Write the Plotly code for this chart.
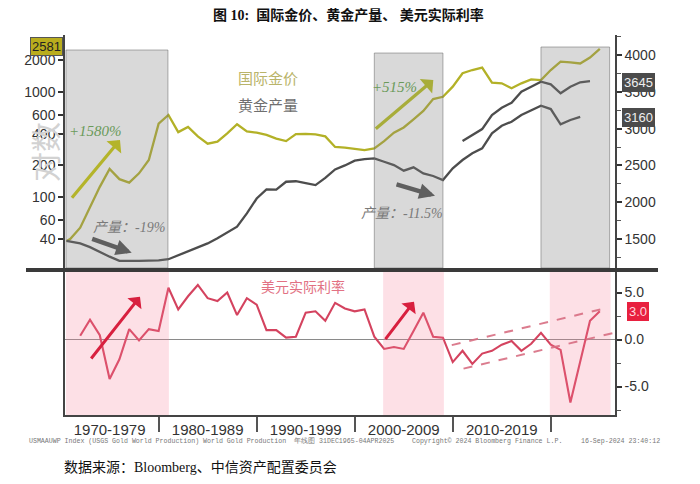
import plotly.graph_objects as go

# ---------------- data ----------------
gold_pos = [1970.6] + list(range(1971, 2026))
gold_price = [38, 40, 51, 80, 125, 185, 148, 137, 168, 225, 500, 605, 415, 465, 378,
              322, 337, 404, 493, 422, 410, 390, 360, 341, 398, 400, 395, 378, 300, 295,
              289, 280, 290, 340, 410, 460, 550, 660, 856, 900, 1125, 1510, 1620, 1710,
              1230, 1210, 1085, 1210, 1320, 1300, 1620, 1945, 1915, 1870, 2130, 2581]

prod_pos = [1970.6] + list(range(1971, 2024))
gold_prod = [1476, 1465, 1441, 1390, 1320, 1260, 1204, 1200, 1203, 1206, 1210, 1225,
             1280, 1335, 1385, 1440, 1510, 1590, 1667, 1849, 2050, 2175, 2170, 2278,
             2285, 2260, 2233, 2330, 2445, 2500, 2565, 2585, 2596, 2550, 2505, 2428,
             2474, 2392, 2356, 2301, 2460, 2573, 2664, 2732, 2936, 3039, 3094, 3185,
             3253, 3311, 3266, 3058, 3117, 3160]

prod2_pos = list(range(2011, 2025))
gold_prod2 = [2831, 2913, 2994, 3185, 3284, 3352, 3501, 3569, 3637, 3602, 3480, 3569, 3629, 3645]

rate_pos = list(range(1972, 2026))
real_rate = [0.4, 2.1, 0.45, -4.2, -2.1, 1.1, -0.1, 1.1, 0.9,
             5.5, 3.2, 4.6, 5.8, 4.4, 4.1, 5.0, 2.6, 4.4, 3.7,
             1.0, 1.0, 0.2, 0.3, 2.85, 3.0, 2.0, 3.9, 3.3, 3.0,
             3.2, 0.3, -1.0, -0.8, -1.0, 0.9, 2.85, 0.3, 0.2, -2.4,
             -1.2, -2.6, -1.5, -1.2, -0.55, -0.15, -1.2, -0.45, 0.7, -0.55,
             -1.1, -6.7, -2.35, 2.0, 3.0]

decade_mid = [1975, 1985, 1995, 2005, 2015]
decade_labels = ["1970-1979", "1980-1989", "1990-1999", "2000-2009", "2010-2019"]
decade_edges = [1980, 1990, 2000, 2010, 2020]
left_ticks = [40, 60, 100, 200, 400, 600, 1000, 2000]
right_ticks = [1500, 2000, 2500, 3000, 3500, 4000]
rate_ticks = [-5, 0, 5]
rate_ticktext = ["-5.0", "0.0", "5.0"]

# ---------------- layout geometry ----------------
W, H = 700, 484
L, R, T, B = 65, 85, 35, 69
PW, PH = W - L - R, H - T - B


def xp(px):
    return (px - L) / PW


def yp(py):
    return (H - B - py) / PH


GOLD = "#b3b127"
PROD = "#4d4d4d"
RATE = "#d4435f"
TICKF = dict(family="Liberation Sans, Arial, sans-serif", size=14, color="#333")
CJK = "Noto Sans CJK SC"
SERIF = "Liberation Serif, Noto Sans CJK SC"

fig = go.Figure()
fig.add_trace(go.Scatter(x=gold_pos, y=gold_price, xaxis="x", yaxis="y", mode="lines",
                         line=dict(color=GOLD, width=2.3), showlegend=False, hoverinfo="skip"))
fig.add_trace(go.Scatter(x=prod_pos, y=gold_prod, xaxis="x", yaxis="y2", mode="lines",
                         line=dict(color=PROD, width=2.3), showlegend=False, hoverinfo="skip"))
fig.add_trace(go.Scatter(x=prod2_pos, y=gold_prod2, xaxis="x", yaxis="y2", mode="lines",
                         line=dict(color=PROD, width=2.3), showlegend=False, hoverinfo="skip"))
fig.add_trace(go.Scatter(x=rate_pos, y=real_rate, xaxis="x", yaxis="y3", mode="lines",
                         line=dict(color=RATE, width=2.1), showlegend=False, hoverinfo="skip"))

top_dom = [yp(268), 1]
bot_dom = [0, yp(272)]

fig.update_layout(
    template="none",
    width=W, height=H,
    margin=dict(l=L, r=R, t=T, b=B, autoexpand=False),
    paper_bgcolor="white", plot_bgcolor="white",
    showlegend=False,
    xaxis=dict(domain=[0, 1], range=[1970.45, 2026.55], anchor="y3", automargin=False,
               tickmode="array", tickvals=decade_mid, ticktext=decade_labels,
               ticks="", showline=True, linecolor="#444", linewidth=1.5,
               showgrid=False, zeroline=False,
               tickfont=dict(family="Liberation Sans, Arial, sans-serif", size=15, color="#333"),
               minor=dict(tickmode="array", tickvals=decade_edges, ticks="outside",
                          ticklen=15, tickwidth=1.5, tickcolor="#555", showgrid=False)),
    yaxis=dict(domain=top_dom, type="log", range=[1.324, 3.543], anchor="x", automargin=False,
               tickmode="array", tickvals=left_ticks, ticktext=[str(v) for v in left_ticks],
               ticks="outside", ticklen=5, tickwidth=2, tickcolor="#333",
               showline=True, linecolor="#444", linewidth=1.5,
               showgrid=False, zeroline=False, tickfont=TICKF),
    yaxis2=dict(overlaying="y", side="right", anchor="x", range=[1106, 4272], automargin=False,
                tickmode="array", tickvals=right_ticks,
                ticks="outside", ticklen=5, tickwidth=2, tickcolor="#333",
                minor=dict(dtick=250, tick0=0, ticks="outside", ticklen=4, tickwidth=1, tickcolor="#555"),
                showline=True, linecolor="#444", linewidth=1.5,
                showgrid=False, zeroline=False, tickfont=TICKF),
    yaxis3=dict(domain=bot_dom, side="right", anchor="x", range=[-8.03, 7.18], automargin=False,
                tickmode="array", tickvals=rate_ticks, ticktext=rate_ticktext,
                ticks="outside", ticklen=5, tickwidth=2, tickcolor="#333",
                minor=dict(dtick=2.5, tick0=0, ticks="outside", ticklen=4, tickwidth=1, tickcolor="#555"),
                showline=True, mirror=True, linecolor="#444", linewidth=1.5,
                showgrid=False, zeroline=True, zerolinecolor="#8a8a8a", zerolinewidth=1,
                tickfont=TICKF),
)

shapes = []
# grey highlight boxes (top panel)
for x0, x1, ytop in [(1970.55, 1980.95, 4068), (2002.0, 2009.0, 4027), (2019.0, 2026.0, 4109)]:
    shapes.append(dict(type="rect", xref="x", yref="y2", x0=x0, x1=x1, y0=1106, y1=ytop,
                       fillcolor="rgba(128,128,128,0.30)",
                       line=dict(color="rgba(110,110,110,0.55)", width=1), layer="above"))
# pink highlight boxes (bottom panel)
for x0, x1 in [(1970.55, 1981.05), (2002.9, 2009.1), (2019.9, 2026.1)]:
    shapes.append(dict(type="rect", xref="x", yref="y3 domain", x0=x0, x1=x1, y0=0, y1=1,
                       fillcolor="rgba(245,125,150,0.24)", line=dict(width=0), layer="above"))
# dashed trend channel
for x0, y0, x1, y1 in [(2009.9, -0.6, 2025.05, 3.2), (2011.1, -3.1, 2026.4, 0.7)]:
    shapes.append(dict(type="line", xref="x", yref="y3", x0=x0, y0=y0, x1=x1, y1=y1,
                       line=dict(color="rgba(215,110,130,0.9)", width=2, dash="dash"), layer="above"))
# thick separator between panels
shapes.append(dict(type="line", xref="paper", yref="paper", x0=xp(26), x1=xp(658),
                   y0=yp(270), y1=yp(270), line=dict(color="#3a3a3a", width=4)))
fig.update_layout(shapes=shapes)

ann = []


def text(px, py, s, size, color, family=CJK, angle=0, xanchor="center"):
    ann.append(dict(xref="paper", yref="paper", x=xp(px), y=yp(py), text=s, showarrow=False,
                    xanchor=xanchor, yanchor="middle", textangle=angle,
                    font=dict(size=size, color=color, family=family)))


def arrow(tx, ty, hx, hy, color, width, head=2, size=1.0):
    ann.append(dict(xref="paper", yref="paper", x=xp(hx), y=yp(hy), ax=tx - hx, ay=ty - hy,
                    axref="pixel", ayref="pixel", text="", showarrow=True,
                    arrowhead=head, arrowsize=size, arrowwidth=width, arrowcolor=color))


def box(px, py, s, bg, fg, border, size=13):
    ann.append(dict(xref="paper", yref="paper", x=xp(px), y=yp(py), text=s, showarrow=False,
                    xanchor="center", yanchor="middle", bgcolor=bg, bordercolor=border,
                    borderwidth=1, borderpad=1,
                    font=dict(size=size, color=fg, family="Liberation Sans, Arial, sans-serif")))


# title / footers
text(348, 15, "<b>图 10:  国际金价、黄金产量、 美元实际利率</b>", 14, "#111", family=SERIF)
text(62, 467, "数据来源：Bloomberg、中信资产配置委员会", 14, "#111", family=SERIF, xanchor="left")
text(27, 441, "USMAAUWP Index (USGS Gold World Production) World Gold Production  年线图 31DEC1965-04APR2025",
     6.6, "#777", family="Liberation Mono, monospace", xanchor="left")
text(410, 441, "Copyright© 2024 Bloomberg Finance L.P.", 6.6, "#777", family="Liberation Mono, monospace", xanchor="left")
text(579, 441, "16-Sep-2024 23:40:12", 6.6, "#777", family="Liberation Mono, monospace", xanchor="left")

# in-chart labels
text(268, 77, "国际金价", 15, "#b9b46a")
text(268, 104, "黄金产量", 15, "#6f6f6f")
text(303, 286, "美元实际利率", 14, "#e27183")
text(44, 152, "对数", 30, "#d2d2d2", angle=-90)
text(95, 131, "<i>+1580%</i>", 15, "#6a9a5a", family=SERIF)
text(394, 87, "<i>+515%</i>", 15, "#6a9a5a", family=SERIF)
text(129, 227, "<i>产量：-19%</i>", 14, "#7a7a7a", family=SERIF)
text(402, 213, "<i>产量：-11.5%</i>", 14, "#7a7a7a", family=SERIF)

# arrows
arrow(70.7, 199.3, 120, 140, "#b4b42a", 3.2, head=1, size=1.0)
arrow(374.3, 130, 433.3, 80, "#a8ad3a", 3.2, head=1, size=1.0)
arrow(90.7, 238.3, 131.7, 252.7, "#5f5f5f", 4.5, head=2, size=0.7)
arrow(395, 184, 435, 195.7, "#5f5f5f", 4.5, head=2, size=0.7)
arrow(90, 360, 140, 296.7, "#d8203f", 3, head=1, size=1.0)
arrow(384.3, 340.7, 414, 301.7, "#d8203f", 3, head=1, size=1.0)

# last-value boxes
box(46, 47, "2581", "#b9ad1e", "#222", "#555")
box(638, 82, "3645", "#4b4b4b", "#eeeeee", "#4b4b4b")
box(638, 117, "3160", "#4b4b4b", "#eeeeee", "#4b4b4b")
box(638, 311, "3.0", "#e8203f", "#ffd6dd", "#e8203f")

fig.update_layout(annotations=ann)
fig.write_html("out.html", config={"displayModeBar": False},
               post_script="document.body.style.margin='0px';")
